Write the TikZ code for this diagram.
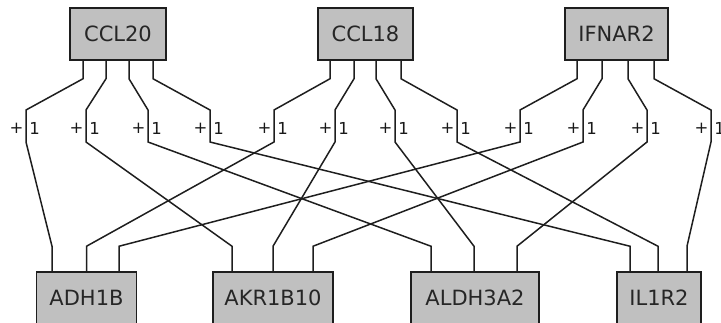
\documentclass[tikz,border=0pt]{standalone}
\usepackage{fontspec}
\setmainfont{DejaVu Sans}
\usetikzlibrary{calc}
\definecolor{boxgray}{HTML}{C0C0C0}
\definecolor{wire}{HTML}{1E1E1E}

\begin{document}
\begin{tikzpicture}
[
  x = 1pt, y = -1pt,
  gene/.style = {shape=rectangle, draw=wire, fill=boxgray, line width=1.5pt,
                 minimum height=52pt, inner sep=0pt,
                 font=\fontsize{21}{25}\selectfont, text=black!85},
  link/.style = {draw=wire, line width=1.5pt},
  sign/.style = {inner sep=0pt, font=\fontsize{16.5}{19}\selectfont, text=black!90}
]
\useasboundingbox (0,0) rectangle (721,323);

% regulators
\node [gene, minimum width=96pt]  (ccl20)  at (118,34)   {CCL20};
\node [gene, minimum width=95pt]  (ccl18)  at (365.5,34) {CCL18};
\node [gene, minimum width=103pt] (ifnar2) at (616.5,34) {IFNAR2};

% targets
\node [gene, minimum width=100pt] (adh1b)   at (86.5,298) {ADH1B};
\node [gene, minimum width=120pt] (akr1b10) at (273,298)  {AKR1B10};
\node [gene, minimum width=128pt] (aldh3a2) at (475,298)  {ALDH3A2};
\node [gene, minimum width=84pt]  (il1r2)   at (659,298)  {IL1R2};

% edges with their +1 signs
\foreach \i/\src/\sx/\lx/\dst/\dx in
  {1/ccl20/-35/26/adh1b/-34.5,     2/ccl20/-12/86/akr1b10/-41,
   3/ccl20/11/148/aldh3a2/-44,     4/ccl20/35/210/il1r2/-29,
   5/ccl18/-35.5/274/adh1b/0,      6/ccl18/-11.5/335/akr1b10/0,
   7/ccl18/10.5/395/aldh3a2/-1,    8/ccl18/35.5/457/il1r2/-1,
   9/ifnar2/-39.5/520/adh1b/32.5,  10/ifnar2/-14.5/583/akr1b10/40,
   11/ifnar2/11.5/647/aldh3a2/42,  12/ifnar2/37.5/711/il1r2/28}
{
  \coordinate (mid\i) at (\lx,128);
  \node [sign] (plus\i) at ($(mid\i)+(-9.5,0)$) {+};
  \node [sign] (one\i)  at ($(mid\i)+(8.5,0)$)  {1};
  \draw [link] ($(\src.south)+(\sx,0)$) -- ++(0,18)
    -- ($(mid\i)+(0,-18)$) -- ($(mid\i)+(0,14)$)
    -- ($(\dst.north)+(\dx,-25)$) -- ($(\dst.north)+(\dx,0)$);
}
\end{tikzpicture}
\end{document}
